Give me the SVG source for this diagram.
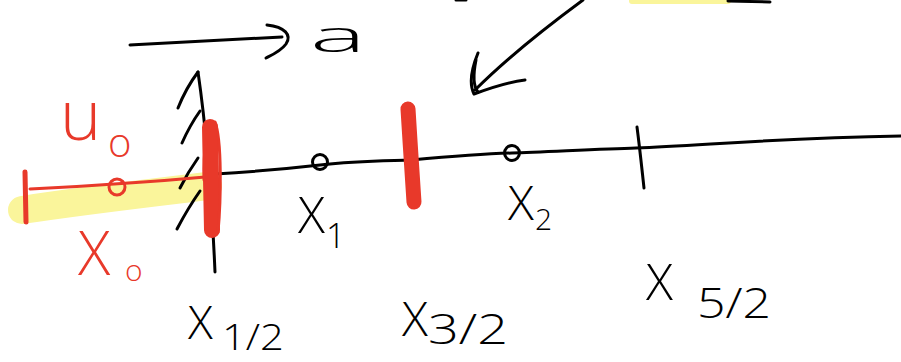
<svg xmlns="http://www.w3.org/2000/svg" width="901" height="362" viewBox="0 0 901 362">
<defs>
<style>
.ink{fill:none;stroke:#000;stroke-width:3;stroke-linecap:round;stroke-linejoin:round}
.red{fill:none;stroke:#e8392a;stroke-linecap:round;stroke-linejoin:round}
.hl{fill:none;stroke:#faf59b;stroke-linecap:round;stroke-linejoin:round}
.t{font-family:"Open Sans","Liberation Sans",sans-serif;font-weight:300}
.tb{fill:#000}
.tr{fill:#e8392a}
</style>
</defs>
<rect width="901" height="362" fill="#fff"/>

<!-- highlight -->
<g id="highlight">
<path class="hl" stroke-width="28" d="M22,210 C80,201 150,193 208,186"/>
<path class="hl" stroke-width="6" d="M632,1 L728,1"/>
</g>

<!-- axis -->
<g id="axis">
<path class="ink" d="M215,174 C250,172 285,169 320,165 S380,161 411,160 C445,157 480,154 512,153 S600,149 636,148 C700,146 770,138 901,136"/>
<path class="ink" d="M637,127 C640,150 642,170 644,188"/>
<path class="ink" d="M728,1 L770,2"/>
<path class="ink" d="M456,0 L466,0"/>
</g>

<!-- boundary with hatching -->
<g id="boundary">
<path class="ink" d="M198,72 C205,120 211,180 215,272"/>
<path class="ink" d="M178,108 Q186,88 198,72"/>
<path class="ink" d="M182,143 Q190,125 200,111"/>
<path class="ink" d="M180,188 Q188,172 198,158"/>
<path class="ink" d="M177,229 Q188,208 200,191"/>
</g>

<!-- left cell -->
<g id="cell0">
<path class="red" stroke-width="3" d="M30,189 C90,186 150,182 205,177"/>
<circle cx="117" cy="187" r="8" fill="none" stroke="#e8392a" stroke-width="3"/>
<path class="red" stroke-width="5" d="M25,172 L26,222"/>
<path class="red" stroke-width="16" d="M210,127 L212,230"/>
<path class="red" stroke-width="3" d="M204,180 C203,150 207,128 215,122 C222,140 221,200 218,232"/>
</g>

<!-- red face 3/2 -->
<g id="face32">
<path class="red" stroke-width="15" d="M408,109 C410,140 412,175 414,202"/>
</g>

<!-- nodes -->
<g id="node-x1">
<circle cx="320" cy="162" r="7.5" fill="none" stroke="#000" stroke-width="3"/>
</g>
<g id="node-x2">
<circle cx="512" cy="153" r="7.5" fill="none" stroke="#000" stroke-width="3"/>
</g>

<!-- connectors -->
<g id="connectors">
<path class="ink" d="M130,45 C180,42 230,40 282,37"/>
<path class="ink" d="M267,25 C285,27 292,35 286,44 C281,51 272,55 266,58"/>
<path class="ink" d="M583,0 C545,28 505,60 475,90"/>
<path class="ink" stroke-width="4" d="M478,53 C471,70 469,84 474,94 C490,88 508,82 525,80"/>
<path class="ink" stroke-width="3" d="M476,60 C473,75 473,86 478,92"/>
</g>

<!-- labels -->
<g id="labels">
<text class="t tb" x="310" y="52" font-size="44" textLength="56" lengthAdjust="spacingAndGlyphs">a</text>
<text class="t tr" x="60" y="140" font-size="70">u</text>
<text class="t tr" x="108" y="157" font-size="40">o</text>
<text class="t tr" x="78" y="275" font-size="60">X</text>
<text class="t tr" x="125" y="281" font-size="30">o</text>
<text class="t tb" x="298" y="233" font-size="50">X</text>
<text class="t tb" x="326" y="248" font-size="34">1</text>
<text class="t tb" x="508" y="220" font-size="48">X</text>
<text class="t tb" x="535" y="230" font-size="30">2</text>
<text class="t tb" x="188" y="339" font-size="46">X</text>
<text class="t tb" x="222" y="350" font-size="36" textLength="62" lengthAdjust="spacingAndGlyphs">1/2</text>
<text class="t tb" x="402" y="336" font-size="48">X</text>
<text class="t tb" x="428" y="344" font-size="42" textLength="80" lengthAdjust="spacingAndGlyphs">3/2</text>
<text class="t tb" x="646" y="300" font-size="50">X</text>
<text class="t tb" x="697" y="318" font-size="42" textLength="74" lengthAdjust="spacingAndGlyphs">5/2</text>
</g>
</svg>
